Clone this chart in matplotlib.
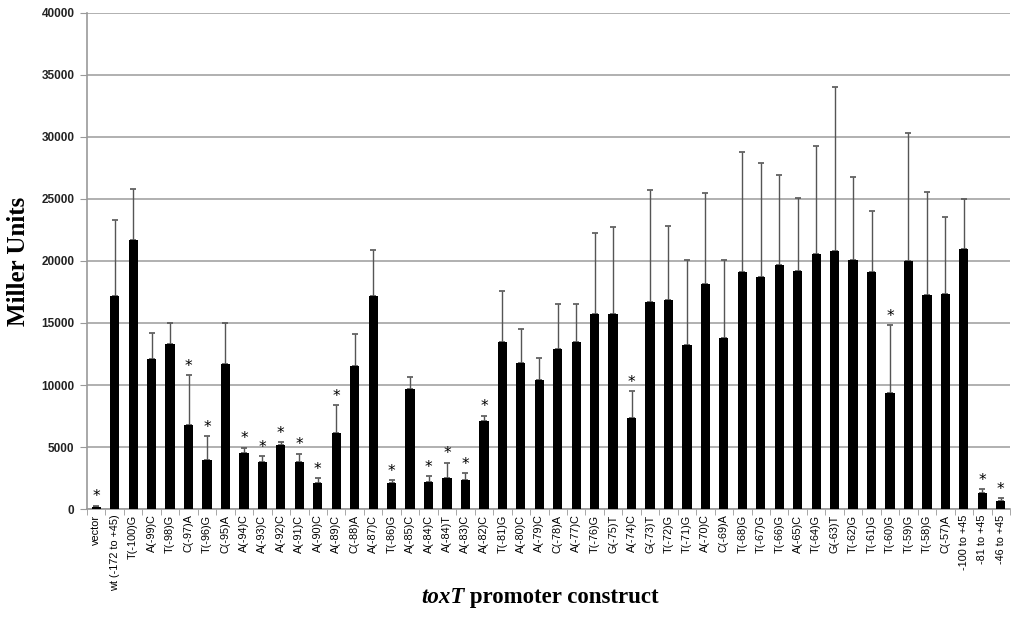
import matplotlib
matplotlib.use("Agg")
import matplotlib.pyplot as plt
import numpy as np

categories = ["vector", "wt (-172 to +45)", "T(-100)G", "A(-99)C", "T(-98)G", "C(-97)A",
              "T(-96)G", "C(-95)A", "A(-94)C", "A(-93)C", "A(-92)C", "A(-91)C", "A(-90)C",
              "A(-89)C", "C(-88)A", "A(-87)C", "T(-86)G", "A(-85)C", "A(-84)C", "A(-84)T",
              "A(-83)C", "A(-82)C", "T(-81)G", "A(-80)C", "A(-79)C", "C(-78)A", "A(-77)C",
              "T(-76)G", "G(-75)T", "A(-74)C", "G(-73)T", "T(-72)G", "T(-71)G", "A(-70)C",
              "C(-69)A", "T(-68)G", "T(-67)G", "T(-66)G", "A(-65)C", "T(-64)G", "G(-63)T",
              "T(-62)G", "T(-61)G", "T(-60)G", "T(-59)G", "T(-58)G", "C(-57)A",
              "-100 to +45", "-81 to +45", "-46 to +45"]

values = [190, 17160, 21690, 12070, 13340, 6740, 3960, 11670, 4500, 3770, 5150, 3830, 2070,
          6170, 11560, 17190, 2100, 9700, 2210, 2530, 2340, 7060, 13470, 11750, 10370, 12930,
          13470, 15710, 15760, 7350, 16680, 16890, 13230, 18160, 13790, 19130, 18670, 19640,
          19180, 20530, 20820, 20120, 19130, 9350, 19960, 17270, 17350, 20990, 1270, 670]

err_top = [270, 23300, 25840, 14220, 14980, 10780, 5870, 14980, 4960, 4260, 5390, 4450, 2480,
           8350, 14120, 20850, 2320, 10610, 2640, 3750, 2880, 7520, 17590, 14520, 12200, 16570,
           16570, 22230, 22760, 9510, 25700, 22850, 20100, 25460, 20070, 28770, 27940, 26940,
           25080, 29280, 34050, 26810, 24060, 14820, 30360, 25540, 23570, 25030, 1590, 860]

significant = ["vector", "C(-97)A", "T(-96)G", "A(-94)C", "A(-93)C", "A(-92)C", "A(-91)C",
               "A(-90)C", "A(-89)C", "T(-86)G", "A(-84)C", "A(-84)T", "A(-83)C", "A(-82)C",
               "A(-74)C", "T(-60)G", "-81 to +45", "-46 to +45"]

yticks = [0, 5000, 10000, 15000, 20000, 25000, 30000, 35000, 40000]

fig = plt.figure(figsize=(10.12, 6.17), dpi=100)
ax = fig.add_axes([0.086, 0.175, 0.912, 0.804])

x = np.arange(len(categories))
vals = np.array(values)
errs = np.array(err_top) - vals

ax.bar(x, vals, width=0.5, color="black", zorder=3)
ax.errorbar(x, vals, yerr=[np.zeros_like(errs), errs], fmt="none", ecolor="#555555",
            elinewidth=1.0, capsize=2.5, capthick=1.2, zorder=2)

for i, c in enumerate(categories):
    if c in significant:
        ax.text(x[i], err_top[i] + 120, "*", ha="center", va="bottom", fontsize=11,
                family="DejaVu Sans", color="black", zorder=4)

ax.set_xlim(-0.5, len(categories) - 0.5)
ax.set_ylim(0, 40000)
ax.set_yticks(yticks)
ax.set_yticklabels([str(t) for t in yticks], fontsize=8.5, family="Liberation Sans",
                   fontweight="bold", color="#222222")
ax.yaxis.grid(True, color="#aaaaaa", linewidth=1.3, zorder=0)
ax.set_axisbelow(True)

ax.set_xticks(x)
ax.set_xticklabels(categories, rotation=90, fontsize=7.8, family="Liberation Sans")
ax.set_xticks(np.arange(len(categories) + 1) - 0.5, minor=True)
ax.tick_params(axis="x", which="major", length=0, pad=4)
ax.tick_params(axis="x", which="minor", length=4, color="#999999")
ax.tick_params(axis="y", length=5, color="#999999", pad=4)

for s in ["top", "right"]:
    ax.spines[s].set_visible(False)
ax.spines["left"].set_color("#999999")
ax.spines["bottom"].set_color("#999999")
ax.spines["left"].set_linewidth(1.2)
ax.spines["bottom"].set_linewidth(1.2)

ax.set_ylabel("Miller Units", fontsize=18, fontweight="bold", family="Liberation Serif",
              labelpad=8)

# x label: italic "toxT" + bold "promoter construct", centred as a whole
t1 = fig.text(0, 0.032, "toxT", fontsize=16.5, fontweight="bold", fontstyle="italic",
              family="Liberation Serif", ha="left", va="center")
t2 = fig.text(0, 0.032, " promoter construct", fontsize=16.5, fontweight="bold",
              family="Liberation Serif", ha="left", va="center")
fig.canvas.draw()
r = fig.canvas.get_renderer()
w1 = t1.get_window_extent(r).width
w2 = t2.get_window_extent(r).width
W = fig.bbox.width
cx = 540.0
left = cx - (w1 + w2) / 2.0
t1.set_x(left / W)
t2.set_x((left + w1) / W)

fig.savefig("out.png", dpi=100)
